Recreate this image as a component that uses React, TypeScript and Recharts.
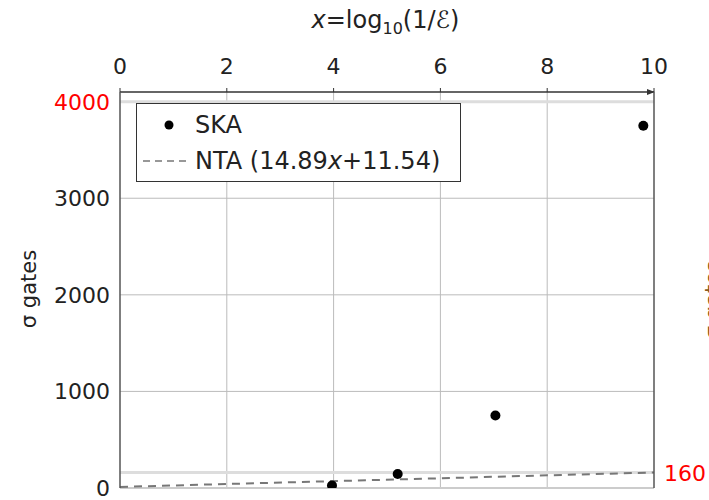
import React from 'react';
import {
  ComposedChart, Scatter, Line, XAxis, YAxis, CartesianGrid, ReferenceLine,
} from 'recharts';

// --- DATA ---
const xTicks = [0, 2, 4, 6, 8, 10];
const yTicks = [0, 1000, 2000, 3000, 4000];
const rightTicks = [160];

const skaX = [3.97, 5.2, 7.03, 9.8];
const skaY = [25, 145, 750, 3750];

const ntaX = [0, 10];
const ntaY = [11.54, 160.4];

const skaData = skaX.map((x, i) => ({ x, y: skaY[i] }));
const ntaData = ntaX.map((x, i) => ({ x, y: ntaY[i] }));

const FONT = '"DejaVu Sans", sans-serif';

const LeftTick = (props: any) => {
  const { x, y, payload } = props;
  return (
    <text x={x - 2} y={y} dy={8} textAnchor="end" fontSize={22} fontFamily={FONT}
      fill={payload.value === 4000 ? '#ff0000' : '#222'}>
      {payload.value}
    </text>
  );
};

const RightTick = (props: any) => {
  const { x, y, payload } = props;
  return (
    <text x={x + 2} y={y} dy={8} textAnchor="start" fontSize={22} fontFamily={FONT} fill="#ff0000">
      {payload.value}
    </text>
  );
};

const TopTick = (props: any) => {
  const { x, y, payload } = props;
  return (
    <text x={x} y={y} dy={-12} textAnchor="middle" fontSize={22} fontFamily={FONT} fill="#222">
      {payload.value}
    </text>
  );
};

const LegendBox = () => (
  <div style={{
    position: 'absolute', left: 136, top: 103,
    width: 325, height: 79, boxSizing: 'border-box', border: '1.5px solid #333',
    background: '#fff', fontFamily: FONT, fontSize: 24, color: '#222',
  }}>
    <div style={{ display: 'flex', alignItems: 'center', height: 38, marginTop: 2 }}>
      <svg width={58} height={20}>
        <circle cx={32} cy={10} r={4.5} fill="#000" />
      </svg>
      <span>SKA</span>
    </div>
    <div style={{ display: 'flex', alignItems: 'center', height: 34 }}>
      <svg width={58} height={20}>
        <line x1={6} y1={10} x2={52} y2={10} stroke="#777" strokeWidth={1.5} strokeDasharray="7 5" />
      </svg>
      <span>NTA (14.89<i>x</i>+11.54)</span>
    </div>
  </div>
);

export default function App() {
  return (
    <div style={{ position: 'absolute', left: 0, top: 0, width: 709, height: 500, background: '#fff', overflow: 'hidden' }}>
      <svg width={0} height={0} style={{ position: 'absolute' }}>
        <defs>
          <marker id="arrowHead" viewBox="0 0 10 10" refX={9} refY={5}
            markerWidth={8} markerHeight={8} orient="auto" markerUnits="userSpaceOnUse">
            <path d="M0,1 L10,5 L0,9 z" fill="#333" />
          </marker>
        </defs>
      </svg>
      <div style={{
        position: 'absolute', left: 0, top: 6, width: 709, textAlign: 'center',
        fontFamily: FONT, fontSize: 24, color: '#222', paddingLeft: 62, boxSizing: 'border-box',
      }}>
        <i>x</i>=log<sub style={{ fontSize: 16 }}>10</sub>(1/<i>ℰ</i>)
      </div>
      <div style={{
        position: 'absolute', left: 29, top: 289, transform: 'translate(-50%, -50%) rotate(-90deg)',
        fontFamily: FONT, fontSize: 21, color: '#222', whiteSpace: 'nowrap',
      }}>
        σ gates
      </div>
      <div style={{
        position: 'absolute', left: 713, top: 300, transform: 'translate(-50%, -50%) rotate(-90deg)',
        fontFamily: FONT, fontSize: 21, color: '#8a5a20', whiteSpace: 'nowrap',
      }}>
        σ gates
      </div>
      <ComposedChart width={709} height={500} margin={{ top: 52, right: 0, left: 50, bottom: 12 }}>
        <CartesianGrid xAxisId="top" yAxisId="left" stroke="#bbb" strokeWidth={1}
          horizontalValues={[1000, 2000, 3000]} verticalValues={[2, 4, 6, 8]} />
        <XAxis xAxisId="top" type="number" dataKey="x" orientation="top" domain={[0, 10]}
          ticks={xTicks} height={40} tick={<TopTick />} tickLine={{ stroke: '#333' }} tickSize={4}
          axisLine={{ stroke: '#333', strokeWidth: 1.5, markerEnd: 'url(#arrowHead)' } as any}
          allowDataOverflow />
        <YAxis yAxisId="left" type="number" domain={[0, 4100]} ticks={yTicks} width={70}
          tick={<LeftTick />} tickLine={false} axisLine={{ stroke: '#555', strokeWidth: 1.5 }}
          allowDataOverflow />
        <YAxis yAxisId="right" orientation="right" type="number" domain={[0, 4100]} ticks={rightTicks}
          width={55} tick={<RightTick />} tickLine={false} axisLine={{ stroke: '#555', strokeWidth: 1.5 }}
          allowDataOverflow />
        <ReferenceLine xAxisId="top" yAxisId="left" y={4000} stroke="#ddd" strokeWidth={3} />
        <ReferenceLine xAxisId="top" yAxisId="left" y={160} stroke="#ddd" strokeWidth={3} />
        <ReferenceLine xAxisId="top" yAxisId="left" y={0} stroke="#ccc" strokeWidth={2} />
        <Line xAxisId="top" yAxisId="left" data={ntaData} dataKey="y" type="linear"
          stroke="#777" strokeWidth={2} strokeDasharray="8 6" dot={false} isAnimationActive={false} />
        <Scatter xAxisId="top" yAxisId="left" data={skaData} dataKey="y" fill="#000"
          shape={(p: any) => <circle cx={p.cx} cy={p.cy} r={5} fill="#000" />}
          isAnimationActive={false} />
      </ComposedChart>
      <LegendBox />
    </div>
  );
}
